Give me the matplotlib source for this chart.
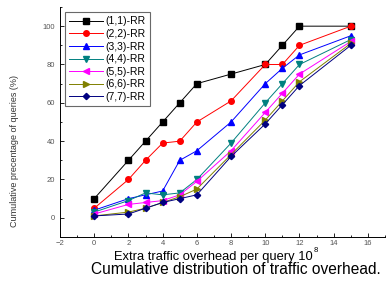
import matplotlib
matplotlib.use('Agg')
import matplotlib.pyplot as plt
from matplotlib.ticker import MultipleLocator

plt.rcParams['font.family'] = ['Liberation Sans', 'DejaVu Sans']

# extra traffic overhead (x 10^8)
x = [0, 2, 3, 4, 5, 6, 8, 10, 11, 12, 15]

rr_11 = [10, 30, 40, 50, 60, 70, 75, 80, 90, 100, 100]
rr_22 = [5, 20, 30, 39, 40, 50, 61, 80, 80, 90, 100]
rr_33 = [4, 10, 12, 14, 30, 35, 50, 70, 78, 85, 95]
rr_44 = [3, 9, 13, 12, 13, 20, 39, 60, 70, 80, 93]
rr_55 = [2, 7, 8, 9, 12, 19, 35, 55, 65, 75, 92]
rr_66 = [1, 3, 5, 8, 11, 15, 33, 51, 61, 71, 91]
rr_77 = [1, 2, 5, 8, 10, 12, 32, 49, 59, 69, 90]

labels = ['(1,1)-RR', '(2,2)-RR', '(3,3)-RR', '(4,4)-RR', '(5,5)-RR', '(6,6)-RR', '(7,7)-RR']
series = [rr_11, rr_22, rr_33, rr_44, rr_55, rr_66, rr_77]
colors = ['black', 'red', 'blue', '#008080', 'magenta', '#808000', '#000080']
markers = ['s', 'o', '^', 'v', '<', '>', 'D']

W, H = 388, 286
fig = plt.figure(figsize=(W / 100, H / 100), dpi=100)
ax = fig.add_axes([60 / W, 1 - 237 / H, 325 / W, 230 / H])

for y, lab, c, m in zip(series, labels, colors, markers):
    ms = 3.2 if m == 'D' else 4
    ax.plot(x, y, color=c, marker=m, markersize=ms, linewidth=0.7, label=lab)

ax.set_xlim(-2, 17)
ax.set_ylim(-10, 110)
ax.xaxis.set_major_locator(MultipleLocator(2))
ax.xaxis.set_minor_locator(MultipleLocator(1))
ax.yaxis.set_minor_locator(MultipleLocator(10))
ax.set_yticks([0, 20, 40, 60, 80, 100])
ax.tick_params(which='both', direction='in', labelsize=5.5, labelcolor='#555555', width=0.6)
ax.tick_params(which='major', length=3)
ax.tick_params(which='minor', length=1.5)
ax.tick_params(axis='x', pad=2)
ax.spines['top'].set_visible(False)
ax.spines['right'].set_visible(False)
ax.spines['left'].set_linewidth(0.7)
ax.spines['bottom'].set_linewidth(0.7)

# axis titles placed like in the original figure
fig.text(15 / W, 1 - 151 / H, 'Cumulative precentage of queries (%)', fontsize=6.5,
         color='#333333', rotation=90, ha='center', va='center')
xl = fig.text(114 / W, 1 - 257 / H, 'Extra traffic overhead per query 10', fontsize=9.3,
              ha='left', va='center')
fig.canvas.draw()
bb = xl.get_window_extent()
fig.text(bb.x1 / W + 0.002, 1 - 251 / H, '8', fontsize=5.5, ha='left', va='center')
fig.text(236 / W, 1 - 270 / H, 'Cumulative distribution of traffic overhead.',
         fontsize=11.2, ha='center', va='center')

leg = ax.legend(loc='upper left', bbox_to_anchor=(0.0, 1.0), fontsize=7.5,
                frameon=True, fancybox=False, edgecolor='#444444',
                handlelength=3.2, labelspacing=0.25, borderpad=0.4, handletextpad=0.3)
leg.get_frame().set_linewidth(0.8)

fig.savefig('out.png', dpi=100)
